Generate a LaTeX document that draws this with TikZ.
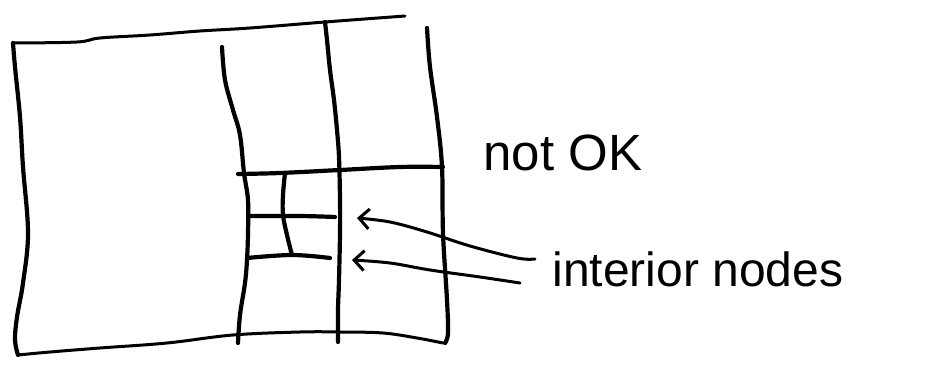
\documentclass[tikz,border=0pt]{standalone}
\usepackage{fontspec}
\setmainfont{Liberation Sans}
\usetikzlibrary{arrows.meta}
\begin{document}
\begin{tikzpicture}[x=1pt,y=-1pt,
  pen/.style={line width=4.2pt,line cap=round,line join=round},
  thinpen/.style={line width=3pt,line cap=round,line join=round},
  lbl/.style={inner sep=0pt,font=\fontsize{48}{48}\selectfont},
  pointer/.style={line width=3pt,line cap=round,-{Straight Barb[length=10pt,width=20pt,line width=3pt]}}]
\useasboundingbox (0,0) rectangle (932,371);
% outer box
\draw[thinpen] plot[smooth,tension=0.6] coordinates {(13,43) (77,42) (100,38) (150,35) (200,31) (250,28) (325,22) (405,16)};
\draw[pen] plot[smooth,tension=0.6] coordinates {(13,43) (15,67) (20,117) (23,167) (28,233) (23,283) (17,317) (15,340) (18,355)};
\draw[thinpen] plot[smooth,tension=0.6] coordinates {(18,355) (50,352) (100,348) (167,343) (233,335) (300,332) (340,332) (383,333) (417,338) (443,343)};
\draw[pen] plot[smooth,tension=0.6] coordinates {(427,28) (430,67) (437,117) (442,167) (443,233) (447,300) (448,333) (445,343)};
% vertical lines
\draw[pen] plot[smooth,tension=0.6] coordinates {(222,47) (225,80) (233,110) (240,135) (244,173) (248,200) (248,233) (247,260) (245,283) (240,315) (238,343)};
\draw[pen] plot[smooth,tension=0.6] coordinates {(325,22) (327,40) (330,70) (334,100) (337,130) (339,157) (340,200) (340,233) (339,280) (338,310) (338,342)};
% horizontal line
\draw[pen] plot[smooth,tension=0.6] coordinates {(238,174) (280,173) (340,170) (400,167) (443,167)};
% refined cell
\draw[pen] plot[smooth,tension=0.6] coordinates {(285,173) (283,195) (283,215) (287,235) (292,255)};
\draw[pen] plot[smooth,tension=0.6] coordinates {(248,216) (300,216) (335,217)};
\draw[pen] plot[smooth,tension=0.6] coordinates {(247,258) (292,255) (330,258)};
% labels
\node[lbl,anchor=base,font=\fontsize{51}{51}\selectfont] (notok) at (563,171) {not OK};
\node[lbl,anchor=base] (interior) at (698,287) {interior nodes};
% pointers
\coordinate (s1) at (535,259);
\coordinate (s2) at (520,283);
\coordinate (p1) at (357,218);
\coordinate (p2) at (352,260);
\draw[pointer] plot[smooth,tension=0.6] coordinates {(s1) (517,258) (470,246) (427,232) (390,222) (p1)};
\draw[pointer] plot[smooth,tension=0.6] coordinates {(s2) (480,277) (430,270) (390,263) (p2)};
\end{tikzpicture}
\end{document}
